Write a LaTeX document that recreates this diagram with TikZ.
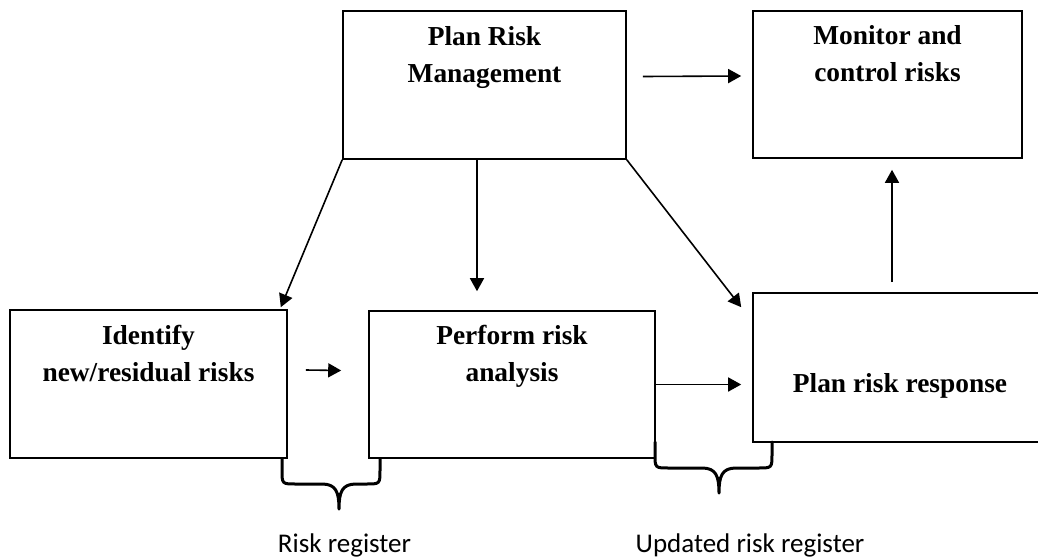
\documentclass[tikz,border=0pt]{standalone}
\usepackage{fontspec}
\setmainfont{Liberation Serif}
\newfontfamily\calfont{Carlito}
\usetikzlibrary{arrows.meta}
\begin{document}
\begin{tikzpicture}[x=1pt,y=-1pt,
  box/.style={draw,line width=1.6pt,rectangle,inner sep=0pt},
  lbl/.style={font=\bfseries\fontsize{27.4}{37}\selectfont,align=center,anchor=base,inner sep=0pt},
  arr/.style={line width=1.6pt,-{Triangle[length=13pt,width=14pt]}},
  brc/.style={line width=3pt,line cap=round,line join=round},
  capt/.style={font=\calfont\fontsize{27}{32}\selectfont,anchor=base,inner sep=0pt}]
\useasboundingbox (0,0) rectangle (1038,557);
\fill[white] (0,0) rectangle (1038,557);
% boxes
\node[box,minimum width=283pt,minimum height=148pt] (prm) at (484.5,85) {};
\node[lbl] (prmt) at ([yshift=-72pt]prm.north) {Plan Risk\\Management};
\node[box,minimum width=269pt,minimum height=147pt] (mon) at (887.5,84.5) {};
\node[lbl] (mont) at ([yshift=-71pt]mon.north) {Monitor and\\control risks};
\node[box,minimum width=277pt,minimum height=148pt] (id) at (148.5,384) {};
\node[lbl] (idt) at ([yshift=-72pt]id.north) {Identify\\new/residual risks};
\node[box,minimum width=286pt,minimum height=147pt] (pa) at (512,384.5) {};
\node[lbl] (pat) at ([yshift=-71pt]pa.north) {Perform risk\\analysis};
\begin{scope}
\clip (0,0) rectangle (1038,557);
\node[box,minimum width=294pt,minimum height=149pt] (resp) at (900,367.5) {};
\end{scope}
\node[lbl] (respt) at ([yshift=-24.5pt]resp.center) {Plan risk response};
% connectors
\draw[arr] ([xshift=16pt,yshift=8.5pt]prm.east) -- ([xshift=-11pt,yshift=8.5pt]mon.west);
\draw[arr] (prm.south west) -- ([xshift=-7pt,yshift=2pt]id.north east);
\draw[arr] ([xshift=-7.5pt]prm.south) -- ([xshift=-7.5pt,yshift=19pt]prm.south |- pa.north);
\draw[arr] (prm.south east) -- ([xshift=-11pt,yshift=-15pt]resp.north west);
\draw[arr] ([xshift=18pt,yshift=14pt]id.east) -- ([xshift=-27pt,yshift=14pt]pa.west);
\draw[arr] (pa.east) -- ([xshift=-11pt]resp.west |- pa.east);
\draw[arr] ([xshift=4.5pt,yshift=10pt]mon.south |- resp.north) -- ([xshift=4.5pt,yshift=-11pt]mon.south);
% braces
\draw[brc] (282,459) -- (282,470) .. controls (282,484) .. (296,484) -- (322,484)
  .. controls (336,484) and (339,492) .. (339,509)
  .. controls (339,492) and (342,484) .. (356,484) -- (366,484)
  .. controls (380,484) .. (380,470) -- (380,459);
\draw[brc] (655,442) -- (655,454) .. controls (655,468) .. (669,468) -- (702,468)
  .. controls (716,468) and (719,476) .. (719,493)
  .. controls (719,476) and (722,468) .. (736,468) -- (758,468)
  .. controls (772,468) .. (772,454) -- (772,442);
% captions
\node[capt] (rr) at (344.5,552) {Risk register};
\node[capt] (urr) at (750,552) {Updated risk register};
\end{tikzpicture}
\end{document}
